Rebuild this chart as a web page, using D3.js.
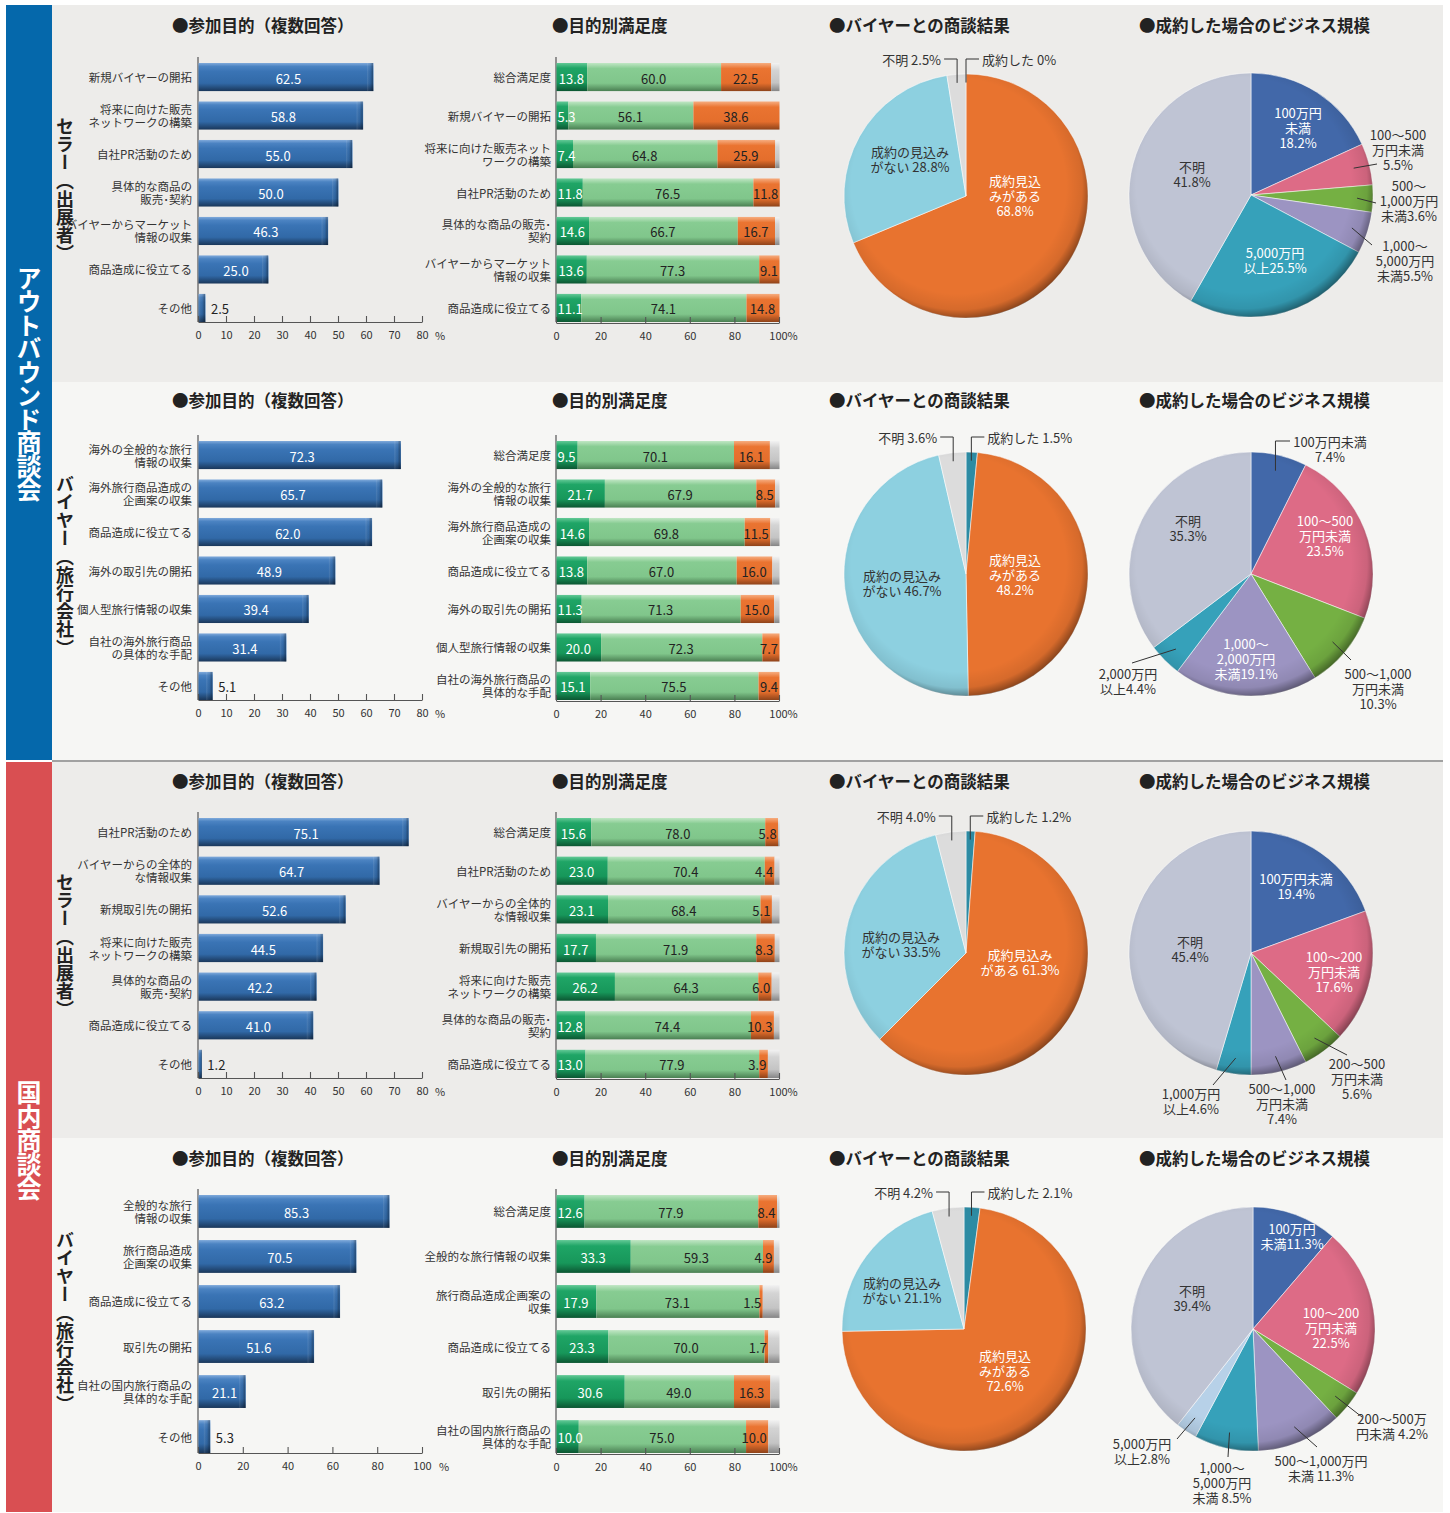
<!DOCTYPE html>
<html>
<head>
<meta charset="utf-8">
<script src="https://cdn.jsdelivr.net/npm/d3@7"></script>
<style>
body { margin: 0; background: #fff; }
svg { display: block; font-family: "Noto Sans CJK JP", "Noto Sans", sans-serif; }
</style>
</head>
<body>
<div id="chart"></div>
<script>
// ---- data ----
// row 1: outbound / seller
const purpose1Cats = ["新規バイヤーの開拓", "将来に向けた販売\nネットワークの構築", "自社PR活動のため", "具体的な商品の\n販売･契約", "バイヤーからマーケット\n情報の収集", "商品造成に役立てる", "その他"];
const purpose1Vals = [62.5, 58.8, 55.0, 50.0, 46.3, 25.0, 2.5];
const sat1Cats = ["総合満足度", "新規バイヤーの開拓", "将来に向けた販売ネット\nワークの構築", "自社PR活動のため", "具体的な商品の販売･\n契約", "バイヤーからマーケット\n情報の収集", "商品造成に役立てる"];
const sat1High = [13.8, 5.3, 7.4, 11.8, 14.6, 13.6, 11.1];
const sat1Mid = [60.0, 56.1, 64.8, 76.5, 66.7, 77.3, 74.1];
const sat1Low = [22.5, 38.6, 25.9, 11.8, 16.7, 9.1, 14.8];
const sat1Rest = [3.7, 0, 1.9, 0, 2.0, 0, 0];
const deal1Vals = [0, 68.8, 28.8, 2.5];
const scale1Vals = [18.2, 5.5, 3.6, 5.5, 25.5, 41.8];

// row 2: outbound / buyer
const purpose2Cats = ["海外の全般的な旅行\n情報の収集", "海外旅行商品造成の\n企画案の収集", "商品造成に役立てる", "海外の取引先の開拓", "個人型旅行情報の収集", "自社の海外旅行商品\nの具体的な手配", "その他"];
const purpose2Vals = [72.3, 65.7, 62.0, 48.9, 39.4, 31.4, 5.1];
const sat2Cats = ["総合満足度", "海外の全般的な旅行\n情報の収集", "海外旅行商品造成の\n企画案の収集", "商品造成に役立てる", "海外の取引先の開拓", "個人型旅行情報の収集", "自社の海外旅行商品の\n具体的な手配"];
const sat2High = [9.5, 21.7, 14.6, 13.8, 11.3, 20.0, 15.1];
const sat2Mid = [70.1, 67.9, 69.8, 67.0, 71.3, 72.3, 75.5];
const sat2Low = [16.1, 8.5, 11.5, 16.0, 15.0, 7.7, 9.4];
const sat2Rest = [4.3, 1.9, 4.1, 3.2, 2.4, 0, 0];
const deal2Vals = [1.5, 48.2, 46.7, 3.6];
const scale2Vals = [7.4, 23.5, 10.3, 19.1, 4.4, 35.3];

// row 3: domestic / seller
const purpose3Cats = ["自社PR活動のため", "バイヤーからの全体的\nな情報収集", "新規取引先の開拓", "将来に向けた販売\nネットワークの構築", "具体的な商品の\n販売･契約", "商品造成に役立てる", "その他"];
const purpose3Vals = [75.1, 64.7, 52.6, 44.5, 42.2, 41.0, 1.2];
const sat3Cats = ["総合満足度", "自社PR活動のため", "バイヤーからの全体的\nな情報収集", "新規取引先の開拓", "将来に向けた販売\nネットワークの構築", "具体的な商品の販売･\n契約", "商品造成に役立てる"];
const sat3High = [15.6, 23.0, 23.1, 17.7, 26.2, 12.8, 13.0];
const sat3Mid = [78.0, 70.4, 68.4, 71.9, 64.3, 74.4, 77.9];
const sat3Low = [5.8, 4.4, 5.1, 8.3, 6.0, 10.3, 3.9];
const sat3Rest = [0.6, 2.2, 3.4, 2.1, 3.5, 2.5, 5.2];
const deal3Vals = [1.2, 61.3, 33.5, 4.0];
const scale3Vals = [19.4, 17.6, 5.6, 7.4, 4.6, 45.4];

// row 4: domestic / buyer
const purpose4Cats = ["全般的な旅行\n情報の収集", "旅行商品造成\n企画案の収集", "商品造成に役立てる", "取引先の開拓", "自社の国内旅行商品の\n具体的な手配", "その他"];
const purpose4Vals = [85.3, 70.5, 63.2, 51.6, 21.1, 5.3];
const sat4Cats = ["総合満足度", "全般的な旅行情報の収集", "旅行商品造成企画案の\n収集", "商品造成に役立てる", "取引先の開拓", "自社の国内旅行商品の\n具体的な手配"];
const sat4High = [12.6, 33.3, 17.9, 23.3, 30.6, 10.0];
const sat4Mid = [77.9, 59.3, 73.1, 70.0, 49.0, 75.0];
const sat4Low = [8.4, 4.9, 1.5, 1.7, 16.3, 10.0];
const sat4Rest = [1.1, 2.5, 7.5, 5.0, 4.1, 5.0];
const deal4Vals = [2.1, 72.6, 21.1, 4.2];
const scale4Vals = [11.3, 22.5, 4.2, 11.3, 8.5, 2.8, 39.4];

const titles = ["●参加目的（複数回答）", "●目的別満足度", "●バイヤーとの商談結果", "●成約した場合のビジネス規模"];

// ---- label layout for the pies (offsets from pie centre) ----
const dealLab1 = [
    {elbow: "R", lines: ["成約した {v}%"]},
    {lines: ["成約見込", "みがある", "{v}%"], dx: 49, dy: -1, fill: "#fff"},
    {lines: ["成約の見込み", "がない {v}%"], dx: -56, dy: -37},
    {elbow: "L", lines: ["不明 {v}%"]}
];
const dealLab2 = [
    {elbow: "R", lines: ["成約した {v}%"]},
    {lines: ["成約見込", "みがある", "{v}%"], dx: 49, dy: 0, fill: "#fff"},
    {lines: ["成約の見込み", "がない {v}%"], dx: -64, dy: 9},
    {elbow: "L", lines: ["不明 {v}%"]}
];
const dealLab3 = [
    {elbow: "R", lines: ["成約した {v}%"]},
    {lines: ["成約見込み", "がある {v}%"], dx: 54, dy: 9, fill: "#fff"},
    {lines: ["成約の見込み", "がない {v}%"], dx: -65, dy: -9},
    {elbow: "L", lines: ["不明 {v}%"]}
];
const dealLab4 = [
    {elbow: "R", lines: ["成約した {v}%"]},
    {lines: ["成約見込", "みがある", "{v}%"], dx: 41, dy: 41, fill: "#fff"},
    {lines: ["成約の見込み", "がない {v}%"], dx: -62, dy: -39},
    {elbow: "L", lines: ["不明 {v}%"]}
];
const scaleLab1 = [
    {lines: ["100万円", "未満", "{v}%"], dx: 47, dy: -68, fill: "#fff"},
    {lines: ["100～500", "万円未満", "{v}%"], dx: 147, dy: -46, lx: 126, ly: -31},
    {lines: ["500～", "1,000万円", "未満{v}%"], dx: 158, dy: 5, lx: 125, ly: 8},
    {lines: ["1,000～", "5,000万円", "未満{v}%"], dx: 154, dy: 65, lx: 121, ly: 50},
    {lines: ["5,000万円", "以上{v}%"], dx: 24, dy: 65, fill: "#fff"},
    {lines: ["不明", "{v}%"], dx: -59, dy: -21}
];
const scaleLab2 = [
    {lines: ["100万円未満", "{v}%"], dx: 79, dy: -125, lx: 39, ly: -133, elbow: true},
    {lines: ["100～500", "万円未満", "{v}%"], dx: 74, dy: -39, fill: "#fff"},
    {lines: ["500～1,000", "万円未満", "{v}%"], dx: 127, dy: 114, lx: 100, ly: 86},
    {lines: ["1,000～", "2,000万円", "未満{v}%"], dx: -5, dy: 84, fill: "#fff"},
    {lines: ["2,000万円", "以上{v}%"], dx: -123, dy: 107, lx: -119, ly: 89},
    {lines: ["不明", "{v}%"], dx: -63, dy: -46}
];
const scaleLab3 = [
    {lines: ["100万円未満", "{v}%"], dx: 45, dy: -67, fill: "#fff"},
    {lines: ["100～200", "万円未満", "{v}%"], dx: 83, dy: 18, fill: "#fff"},
    {lines: ["200～500", "万円未満", "{v}%"], dx: 106, dy: 125, lx: 96, ly: 102},
    {lines: ["500～1,000", "万円未満", "{v}%"], dx: 31, dy: 150, lx: 35, ly: 127},
    {lines: ["1,000万円", "以上{v}%"], dx: -60, dy: 148, lx: -38, ly: 132},
    {lines: ["不明", "{v}%"], dx: -61, dy: -4}
];
const scaleLab4 = [
    {lines: ["100万円", "未満{v}%"], dx: 39, dy: -93, fill: "#fff"},
    {lines: ["100～200", "万円未満", "{v}%"], dx: 78, dy: -2, fill: "#fff"},
    {lines: ["200～500万", "円未満 {v}%"], dx: 139, dy: 97, lx: 109, ly: 88},
    {lines: ["500～1,000万円", "未満 {v}%"], dx: 68, dy: 139, lx: 64, ly: 118},
    {lines: ["1,000～", "5,000万円", "未満 {v}%"], dx: -31, dy: 153, lx: -25, ly: 128},
    {lines: ["5,000万円", "以上{v}%"], dx: -111, dy: 122, lx: -76, ly: 110},
    {lines: ["不明", "{v}%"], dx: -61, dy: -31}
];

const dealColors = ["#2d8ba3", "#e8732f", "#8dd0e0", "#dcdcdc"];
const scaleColors6 = ["#4268a9", "#dd6b86", "#75b043", "#9c94c2", "#36a1ba", "#bfc4d4"];
const scaleColors7 = ["#4268a9", "#dd6b86", "#75b043", "#9c94c2", "#36a1ba", "#b7d1e8", "#bfc4d4"];

const rows = [
    {top: 5, bottom: 382, bg: "#edecea", titleY: 25, barTop: 63, axisY: 322, who: "セラー（出展者）", whoY: 190,
     pCats: purpose1Cats, pVals: purpose1Vals, pMax: 80, pStep: 10,
     sCats: sat1Cats, sat: [sat1High, sat1Mid, sat1Low, sat1Rest],
     deal: deal1Vals, dealC: [966, 196], dealLab: dealLab1,
     scale: scale1Vals, scaleC: [1251, 195], scaleCol: scaleColors6, scaleLab: scaleLab1},
    {top: 382, bottom: 760, bg: "#f6f6f4", titleY: 400, barTop: 441, axisY: 700, who: "バイヤー（旅行会社）", whoY: 566,
     pCats: purpose2Cats, pVals: purpose2Vals, pMax: 80, pStep: 10,
     sCats: sat2Cats, sat: [sat2High, sat2Mid, sat2Low, sat2Rest],
     deal: deal2Vals, dealC: [966, 574], dealLab: dealLab2,
     scale: scale2Vals, scaleC: [1251, 574], scaleCol: scaleColors6, scaleLab: scaleLab2},
    {top: 762, bottom: 1138, bg: "#edecea", titleY: 781, barTop: 818, axisY: 1078, who: "セラー（出展者）", whoY: 946,
     pCats: purpose3Cats, pVals: purpose3Vals, pMax: 80, pStep: 10,
     sCats: sat3Cats, sat: [sat3High, sat3Mid, sat3Low, sat3Rest],
     deal: deal3Vals, dealC: [966, 953], dealLab: dealLab3,
     scale: scale3Vals, scaleC: [1251, 953], scaleCol: scaleColors6, scaleLab: scaleLab3},
    {top: 1138, bottom: 1512, bg: "#f6f6f4", titleY: 1158, barTop: 1195, axisY: 1453, who: "バイヤー（旅行会社）", whoY: 1322,
     pCats: purpose4Cats, pVals: purpose4Vals, pMax: 100, pStep: 20,
     sCats: sat4Cats, sat: [sat4High, sat4Mid, sat4Low, sat4Rest],
     deal: deal4Vals, dealC: [964, 1329], dealLab: dealLab4,
     scale: scale4Vals, scaleC: [1253, 1329], scaleCol: scaleColors7, scaleLab: scaleLab4}
];

// ---- drawing ----
const W = 1450, H = 1513;
const svg = d3.select("#chart").append("svg").attr("width", W).attr("height", H);
const defs = svg.append("defs");

function vGrad(id, stops) {
    const g = defs.append("linearGradient").attr("id", id)
        .attr("x1", 0).attr("y1", 0).attr("x2", 0).attr("y2", 1);
    stops.forEach(s => g.append("stop").attr("offset", s[0]).attr("stop-color", s[1]));
}
vGrad("gBlue", [[0, "#80aadb"], [0.12, "#4b83c2"], [0.3, "#3a74b5"], [0.72, "#3169a7"], [1, "#1a375a"]]);
vGrad("gHigh", [[0, "#63c996"], [0.18, "#1fa566"], [0.7, "#17975a"], [1, "#0c5632"]]);
vGrad("gMid", [[0, "#c0e6c4"], [0.2, "#87cc92"], [0.72, "#80c68b"], [1, "#4a7f52"]]);
vGrad("gLow", [[0, "#f6ad80"], [0.2, "#ea7431"], [0.72, "#e46e2c"], [1, "#8e431a"]]);
vGrad("gRest", [[0, "#f2f2f2"], [0.25, "#d4d4d4"], [0.7, "#c4c4c4"], [1, "#858585"]]);

// darker cap at the right end of each blue bar
const cap = defs.append("linearGradient").attr("id", "gCap").attr("x1", 0).attr("y1", 0).attr("x2", 1).attr("y2", 0);
[[0, "#fff", 0.12], [0.5, "#000", 0.05], [1, "#000", 0.35]].forEach(s =>
    cap.append("stop").attr("offset", s[0]).attr("stop-color", s[1]).attr("stop-opacity", s[2]));

const shade = defs.append("radialGradient").attr("id", "pieShade")
    .attr("cx", 0.47).attr("cy", 0.46).attr("r", 0.55);
[[0, 0], [0.8, 0], [0.92, 0.08], [1, 0.42]].forEach(s =>
    shade.append("stop").attr("offset", s[0]).attr("stop-color", "#000").attr("stop-opacity", s[1]));

// left bands
svg.append("rect").attr("x", 6).attr("y", 5).attr("width", 46).attr("height", 755).attr("fill", "#0568ab");
svg.append("rect").attr("x", 6).attr("y", 762).attr("width", 46).attr("height", 750).attr("fill", "#d94f52");

// vertical (tategaki) text
function vertText(x, yc, str, size, step, fill) {
    svg.append("text").attr("x", x).attr("y", yc)
        .attr("text-anchor", "middle").style("writing-mode", "vertical-rl")
        .attr("letter-spacing", step - size)
        .attr("font-size", size).attr("font-weight", "bold").attr("fill", fill).text(str);
}
vertText(29, 383, "アウトバウンド商談会", 25, 23.5, "#fff");
vertText(29, 1140, "国内商談会", 25, 24, "#fff");

const fmt = v => v === 0 ? "0" : v.toFixed(1);

function multiText(g, x, y, lines, lh, anchor, size, fill) {
    const t = g.append("text").attr("text-anchor", anchor).attr("font-size", size).attr("fill", fill);
    const y0 = y - (lines.length - 1) * lh / 2;
    lines.forEach((l, i) => t.append("tspan").attr("x", x).attr("y", y0 + i * lh)
        .attr("dominant-baseline", "central").text(l));
    return t;
}

function styleAxis(a) {
    a.select(".domain").attr("stroke", "#555").attr("stroke-width", 1.2);
    a.selectAll(".tick line").attr("stroke", "#555").attr("stroke-width", 1.1);
    a.selectAll(".tick text").attr("font-size", 11).attr("fill", "#333")
        .attr("font-family", "\"Noto Sans CJK JP\", \"Noto Sans\", sans-serif");
}

rows.forEach(row => {
    const g = svg.append("g");
    g.append("rect").attr("x", 52).attr("y", row.top).attr("width", 1391).attr("height", row.bottom - row.top).attr("fill", row.bg);

    // titles
    [172, 552, 829, 1139].forEach((x, i) => g.append("text").attr("x", x).attr("y", row.titleY)
        .attr("dominant-baseline", "central").attr("font-size", 16.5).attr("font-weight", "bold")
        .attr("fill", "#222").text(titles[i]));

    // ---- purpose bars ----
    const x = d3.scaleLinear().domain([0, row.pMax]).range([198, 422]);
    const y = d3.scaleBand().domain(row.pCats).range([row.barTop, row.axisY]).paddingInner(0.27).paddingOuter(0);
    g.append("line").attr("x1", 198).attr("x2", 198).attr("y1", row.barTop - 6).attr("y2", row.axisY)
        .attr("stroke", "#555").attr("stroke-width", 1.2);
    g.selectAll(".pbar").data(row.pCats).enter().append("rect")
        .attr("x", x(0) + 0.5).attr("y", d => y(d))
        .attr("width", (d, i) => x(row.pVals[i]) - x(0))
        .attr("height", y.bandwidth()).attr("fill", "url(#gBlue)");
    g.selectAll(".pcap").data(row.pCats).enter().append("rect")
        .attr("x", (d, i) => Math.max(x(0) + 0.5, x(row.pVals[i]) - 6)).attr("y", d => y(d))
        .attr("width", (d, i) => Math.min(6, x(row.pVals[i]) - x(0)))
        .attr("height", y.bandwidth()).attr("fill", "url(#gCap)");
    row.pCats.forEach((c, i) => {
        multiText(g, 192, y(c) + y.bandwidth() / 2, c.split("\n"), 13, "end", 11.5, "#333");
        const w = x(row.pVals[i]) - x(0);
        const t = g.append("text").attr("y", y(c) + y.bandwidth() / 2 + 1).attr("dominant-baseline", "central")
            .attr("font-size", 13).text(fmt(row.pVals[i]));
        const tw = t.node().getComputedTextLength();
        if (w > tw + 10) t.attr("x", x(0) + w / 2 + 3).attr("text-anchor", "middle").attr("fill", "#fff");
        else t.attr("x", x(row.pVals[i]) + 6).attr("fill", "#222");
    });
    const ax = g.append("g").attr("transform", `translate(0,${row.axisY})`)
        .call(d3.axisBottom(x).tickValues(d3.range(0, row.pMax + 1, row.pStep))
            .tickSizeInner(-6).tickSizeOuter(0).tickPadding(9));
    styleAxis(ax);
    g.append("text").attr("x", x(row.pMax) + (row.pMax === 100 ? 17 : 13)).attr("y", row.axisY + 13)
        .attr("dominant-baseline", "central")
        .attr("font-size", 11).attr("fill", "#333").text("%");

    // ---- satisfaction stacked bars ----
    const keys = ["high", "mid", "low", "rest"];
    const table = row.sCats.map((c, i) => ({cat: c, high: row.sat[0][i], mid: row.sat[1][i], low: row.sat[2][i], rest: row.sat[3][i]}));
    const series = d3.stack().keys(keys)(table);
    const sx = d3.scaleLinear().domain([0, 100]).range([556, 779]);
    const sy = d3.scaleBand().domain(row.sCats).range([row.barTop, row.axisY]).paddingInner(0.27).paddingOuter(0);
    const fills = {high: "url(#gHigh)", mid: "url(#gMid)", low: "url(#gLow)", rest: "url(#gRest)"};
    g.append("line").attr("x1", 556).attr("x2", 556).attr("y1", row.barTop - 6).attr("y2", row.axisY)
        .attr("stroke", "#555").attr("stroke-width", 1.2);
    series.forEach(s => {
        g.selectAll(null).data(s).enter().append("rect")
            .attr("x", d => sx(d[0]) + 0.5).attr("y", d => sy(d.data.cat))
            .attr("width", d => Math.max(0, sx(d[1]) - sx(d[0])))
            .attr("height", sy.bandwidth()).attr("fill", fills[s.key]);
    });
    series.slice(0, 3).forEach(s => {
        s.forEach(d => {
            const v = d.data[s.key];
            const x0 = sx(d[0]), x1 = sx(d[1]), w = x1 - x0;
            const yc = sy(d.data.cat) + sy.bandwidth() / 2 + 1;
            const t = g.append("text").attr("y", yc).attr("dominant-baseline", "central")
                .attr("font-size", 13).attr("fill", s.key === "high" ? "#fff" : "#222").text(fmt(v));
            const tw = t.node().getComputedTextLength();
            if (w >= tw + 5) t.attr("x", (x0 + x1) / 2).attr("text-anchor", "middle");
            else if (s.key === "high") t.attr("x", x0 + 1.5).attr("text-anchor", "start");
            else t.attr("x", x1 - 1).attr("text-anchor", "end");
        });
    });
    row.sCats.forEach(c => multiText(g, 551, sy(c) + sy.bandwidth() / 2, c.split("\n"), 13, "end", 11.5, "#333"));
    const sax = g.append("g").attr("transform", `translate(0,${row.axisY + 1})`)
        .call(d3.axisBottom(sx).tickValues([0, 20, 40, 60, 80, 100])
            .tickFormat(d => d === 100 ? "100%" : d).tickSizeInner(-6).tickSizeOuter(0).tickPadding(9));
    styleAxis(sax);
    sax.selectAll(".tick text").filter(d => d === 100).attr("dx", 4);

    // ---- pies ----
    drawPie(g, row.dealC, 122, row.deal, dealColors, row.dealLab);
    drawPie(g, row.scaleC, 122, row.scale, row.scaleCol, row.scaleLab);

    vertText(65, row.whoY, row.who, 18, 18.2, "#222");
});

function drawPie(g, c, r, vals, colors, labels) {
    const [cx, cy] = c;
    const arcs = d3.pie().sort(null).value(d => d)(vals);
    const arc = d3.arc().innerRadius(0).outerRadius(r);
    const pg = g.append("g").attr("transform", `translate(${cx},${cy})`);
    pg.selectAll("path").data(arcs).enter().append("path")
        .attr("d", arc).attr("fill", (d, i) => colors[i])
        .attr("stroke", "#fff").attr("stroke-width", 0.7).attr("stroke-opacity", 0.75);
    pg.append("circle").attr("r", r).attr("fill", "url(#pieShade)");

    const polar = (a, rr) => [cx + rr * Math.sin(a), cy - rr * Math.cos(a)];
    labels.forEach((lab, i) => {
        const a = arcs[i];
        const mid = (a.startAngle + a.endAngle) / 2;
        const lines = lab.lines.map(s => s.replace("{v}", fmt(vals[i])));
        if (lab.elbow === "L" || lab.elbow === "R") {
            const [sx, sy] = polar(mid, r * 0.93);
            const ty = cy - r - 15;
            const dir = lab.elbow === "L" ? -1 : 1;
            g.append("path").attr("d", `M${sx},${sy}V${ty}H${sx + dir * 13}`)
                .attr("fill", "none").attr("stroke", "#333").attr("stroke-width", 1);
            g.append("text").attr("x", sx + dir * 16).attr("y", ty).attr("dominant-baseline", "central")
                .attr("text-anchor", dir < 0 ? "end" : "start").attr("font-size", 13).attr("fill", "#333")
                .text(lines[0]);
            return;
        }
        if (lab.lx !== undefined) {
            const [sx, sy] = polar(mid, r * 0.87);
            const ex = cx + lab.lx, ey = cy + lab.ly;
            const d = lab.elbow ? `M${sx},${sy}V${ey}H${ex}` : `M${sx},${sy}L${ex},${ey}`;
            g.append("path").attr("d", d).attr("fill", "none").attr("stroke", "#333").attr("stroke-width", 1);
        }
        multiText(g, cx + lab.dx, cy + lab.dy, lines, 15, "middle", 13, lab.fill || "#333");
    });
}

// divider between the two blocks
svg.append("line").attr("x1", 52).attr("x2", 1443).attr("y1", 761).attr("y2", 761)
    .attr("stroke", "#444").attr("stroke-width", 1.2);
</script>
</body>
</html>
